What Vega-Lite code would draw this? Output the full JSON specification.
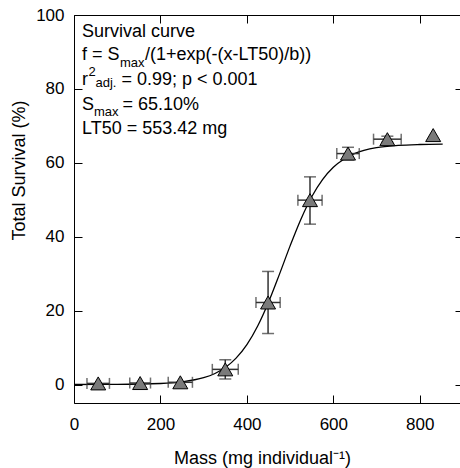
{
  "$schema": "https://vega.github.io/schema/vega-lite/v6.json",
  "width": 389,
  "height": 388,
  "autosize": "none",
  "padding": {"left": 74, "top": 15, "right": 0, "bottom": 65},
  "background": "white",
  "config": {
    "view": {"stroke": null},
    "font": "Liberation Sans",
    "axis": {
      "grid": false,
      "labelFont": "Liberation Sans",
      "labelFontSize": 17,
      "labelColor": "#000000",
      "titleFont": "Liberation Sans",
      "titleFontSize": 18,
      "titleFontWeight": "normal",
      "titleColor": "#000000",
      "domainColor": "#000000",
      "domainWidth": 1,
      "tickColor": "#000000",
      "tickWidth": 1,
      "tickSize": -8
    },
    "text": {"font": "Liberation Sans", "color": "#000000"}
  },
  "datasets": {
    "points": [
      {"mass": 56, "mass_lo": 30, "mass_hi": 82, "surv": 0.3, "surv_lo": null, "surv_hi": null},
      {"mass": 153, "mass_lo": 129, "mass_hi": 177, "surv": 0.4, "surv_lo": null, "surv_hi": null},
      {"mass": 246, "mass_lo": 218, "mass_hi": 274, "surv": 0.6, "surv_lo": null, "surv_hi": null},
      {"mass": 350, "mass_lo": 320, "mass_hi": 380, "surv": 4.1, "surv_lo": 1.5, "surv_hi": 6.7},
      {"mass": 449, "mass_lo": 421, "mass_hi": 477, "surv": 22.2, "surv_lo": 13.8, "surv_hi": 30.6},
      {"mass": 546, "mass_lo": 518, "mass_hi": 574, "surv": 49.9, "surv_lo": 43.4, "surv_hi": 56.2},
      {"mass": 634, "mass_lo": 608, "mass_hi": 660, "surv": 62.5, "surv_lo": 60.8, "surv_hi": 64.2},
      {"mass": 725, "mass_lo": 693, "mass_hi": 757, "surv": 66.4, "surv_lo": 65.6, "surv_hi": 67.2},
      {"mass": 831, "mass_lo": null, "mass_hi": null, "surv": 67.5, "surv_lo": null, "surv_hi": null}
    ],
    "curve": [
      {"mass": 0, "surv": 0.01},
      {"mass": 100, "surv": 0.04},
      {"mass": 200, "surv": 0.28},
      {"mass": 250, "surv": 0.72},
      {"mass": 300, "surv": 1.84},
      {"mass": 325, "surv": 2.92},
      {"mass": 350, "surv": 4.59},
      {"mass": 375, "surv": 7.13},
      {"mass": 400, "surv": 10.8},
      {"mass": 425, "surv": 15.84},
      {"mass": 450, "surv": 22.27},
      {"mass": 475, "surv": 29.74},
      {"mass": 500, "surv": 37.52},
      {"mass": 525, "surv": 44.74},
      {"mass": 550, "surv": 50.82},
      {"mass": 575, "surv": 55.45},
      {"mass": 600, "surv": 58.78},
      {"mass": 625, "surv": 61.04},
      {"mass": 650, "surv": 62.53},
      {"mass": 700, "surv": 64.09},
      {"mass": 750, "surv": 64.71},
      {"mass": 800, "surv": 64.95},
      {"mass": 853, "surv": 65.04}
    ],
    "one": [{}]
  },
  "layer": [
    {
      "data": {"name": "curve"},
      "mark": {"type": "line", "color": "#000000", "strokeWidth": 1.3, "interpolate": "monotone"},
      "encoding": {
        "x": {
          "field": "mass", "type": "quantitative",
          "scale": {"domain": [0, 900], "nice": false, "zero": false},
          "axis": {
            "orient": "bottom",
            "values": [0, 200, 400, 600, 800],
            "labelFlush": false,
            "labelPadding": 21,
            "title": "Mass (mg individual⁻¹)",
            "titleX": 188,
            "titleY": 60,
            "titleBaseline": "alphabetic",
            "titleAnchor": null
          }
        },
        "y": {
          "field": "surv", "type": "quantitative",
          "scale": {"domain": [-5, 100], "nice": false, "zero": false},
          "axis": {
            "orient": "left",
            "values": [0, 20, 40, 60, 80, 100],
            "labelPadding": 18,
            "title": "Total Survival (%)",
            "titleAngle": 270,
            "titleX": -50,
            "titleY": 155,
            "titleAlign": "center",
            "titleBaseline": "alphabetic"
          }
        }
      }
    },
    {
      "data": {"name": "curve"},
      "mark": {"type": "point", "opacity": 0},
      "encoding": {
        "x": {
          "field": "mass", "type": "quantitative",
          "axis": {"orient": "top", "values": [0, 200, 400, 600, 800], "labels": false, "title": null}
        },
        "y": {
          "field": "surv", "type": "quantitative",
          "axis": {"orient": "right", "values": [0, 20, 40, 60, 80, 100], "labels": false, "title": null}
        }
      }
    },
    {
      "data": {"name": "points"},
      "mark": {"type": "rule", "color": "#333333", "strokeWidth": 1.5},
      "encoding": {
        "x": {"field": "mass_lo", "type": "quantitative", "axis": null},
        "x2": {"field": "mass_hi"},
        "y": {"field": "surv", "type": "quantitative", "axis": null}
      }
    },
    {
      "data": {"name": "points"},
      "mark": {"type": "tick", "orient": "vertical", "color": "#333333", "thickness": 1.5, "size": 11},
      "encoding": {
        "x": {"field": "mass_lo", "type": "quantitative", "axis": null},
        "y": {"field": "surv", "type": "quantitative", "axis": null}
      }
    },
    {
      "data": {"name": "points"},
      "mark": {"type": "tick", "orient": "vertical", "color": "#333333", "thickness": 1.5, "size": 11},
      "encoding": {
        "x": {"field": "mass_hi", "type": "quantitative", "axis": null},
        "y": {"field": "surv", "type": "quantitative", "axis": null}
      }
    },
    {
      "data": {"name": "points"},
      "mark": {"type": "rule", "color": "#333333", "strokeWidth": 1.5},
      "encoding": {
        "x": {"field": "mass", "type": "quantitative", "axis": null},
        "y": {"field": "surv_lo", "type": "quantitative", "axis": null},
        "y2": {"field": "surv_hi"}
      }
    },
    {
      "data": {"name": "points"},
      "mark": {"type": "tick", "orient": "horizontal", "color": "#333333", "thickness": 1.5, "size": 12},
      "encoding": {
        "x": {"field": "mass", "type": "quantitative", "axis": null},
        "y": {"field": "surv_lo", "type": "quantitative", "axis": null}
      }
    },
    {
      "data": {"name": "points"},
      "mark": {"type": "tick", "orient": "horizontal", "color": "#333333", "thickness": 1.5, "size": 12},
      "encoding": {
        "x": {"field": "mass", "type": "quantitative", "axis": null},
        "y": {"field": "surv_hi", "type": "quantitative", "axis": null}
      }
    },
    {
      "data": {"name": "points"},
      "mark": {"type": "point", "shape": "triangle-up", "size": 225, "filled": true, "fill": "#7a7a7a", "stroke": "#000000", "strokeWidth": 1, "opacity": 1},
      "encoding": {
        "x": {"field": "mass", "type": "quantitative", "axis": null},
        "y": {"field": "surv", "type": "quantitative", "axis": null}
      }
    },
    {
      "data": {"name": "one"},
      "mark": {"type": "text", "text": "Survival curve", "fontSize": 18, "align": "left", "baseline": "alphabetic"},
      "encoding": {"x": {"datum": 18.5, "type": "quantitative", "axis": null}, "y": {"datum": 94.0, "type": "quantitative", "axis": null}}
    },
    {
      "data": {"name": "one"},
      "mark": {"type": "text", "text": "f = S", "fontSize": 18, "align": "left", "baseline": "alphabetic"},
      "encoding": {"x": {"datum": 18.5, "type": "quantitative", "axis": null}, "y": {"datum": 87.8, "type": "quantitative", "axis": null}}
    },
    {
      "data": {"name": "one"},
      "mark": {"type": "text", "text": "max", "fontSize": 13, "align": "left", "baseline": "alphabetic"},
      "encoding": {"x": {"datum": 106.4, "type": "quantitative", "axis": null}, "y": {"datum": 86.0, "type": "quantitative", "axis": null}}
    },
    {
      "data": {"name": "one"},
      "mark": {"type": "text", "text": "/(1+exp(-(x-LT50)/b))", "fontSize": 18, "align": "left", "baseline": "alphabetic"},
      "encoding": {"x": {"datum": 164.2, "type": "quantitative", "axis": null}, "y": {"datum": 87.8, "type": "quantitative", "axis": null}}
    },
    {
      "data": {"name": "one"},
      "mark": {"type": "text", "text": "r", "fontSize": 18, "align": "left", "baseline": "alphabetic"},
      "encoding": {"x": {"datum": 18.5, "type": "quantitative", "axis": null}, "y": {"datum": 81.0, "type": "quantitative", "axis": null}}
    },
    {
      "data": {"name": "one"},
      "mark": {"type": "text", "text": "2", "fontSize": 13, "align": "left", "baseline": "alphabetic"},
      "encoding": {"x": {"datum": 33.5, "type": "quantitative", "axis": null}, "y": {"datum": 83.6, "type": "quantitative", "axis": null}}
    },
    {
      "data": {"name": "one"},
      "mark": {"type": "text", "text": "adj.", "fontSize": 13, "align": "left", "baseline": "alphabetic"},
      "encoding": {"x": {"datum": 49.7, "type": "quantitative", "axis": null}, "y": {"datum": 80.5, "type": "quantitative", "axis": null}}
    },
    {
      "data": {"name": "one"},
      "mark": {"type": "text", "text": "= 0.99; p < 0.001", "fontSize": 18, "align": "left", "baseline": "alphabetic"},
      "encoding": {"x": {"datum": 109.8, "type": "quantitative", "axis": null}, "y": {"datum": 81.0, "type": "quantitative", "axis": null}}
    },
    {
      "data": {"name": "one"},
      "mark": {"type": "text", "text": "S", "fontSize": 18, "align": "left", "baseline": "alphabetic"},
      "encoding": {"x": {"datum": 18.5, "type": "quantitative", "axis": null}, "y": {"datum": 74.3, "type": "quantitative", "axis": null}}
    },
    {
      "data": {"name": "one"},
      "mark": {"type": "text", "text": "max", "fontSize": 13, "align": "left", "baseline": "alphabetic"},
      "encoding": {"x": {"datum": 46.2, "type": "quantitative", "axis": null}, "y": {"datum": 72.8, "type": "quantitative", "axis": null}}
    },
    {
      "data": {"name": "one"},
      "mark": {"type": "text", "text": "= 65.10%", "fontSize": 18, "align": "left", "baseline": "alphabetic"},
      "encoding": {"x": {"datum": 112, "type": "quantitative", "axis": null}, "y": {"datum": 74.3, "type": "quantitative", "axis": null}}
    },
    {
      "data": {"name": "one"},
      "mark": {"type": "text", "text": "LT50 = 553.42 mg", "fontSize": 18, "align": "left", "baseline": "alphabetic"},
      "encoding": {"x": {"datum": 18.5, "type": "quantitative", "axis": null}, "y": {"datum": 67.9, "type": "quantitative", "axis": null}}
    }
  ],
  "resolve": {"axis": {"x": "independent", "y": "independent"}}
}
